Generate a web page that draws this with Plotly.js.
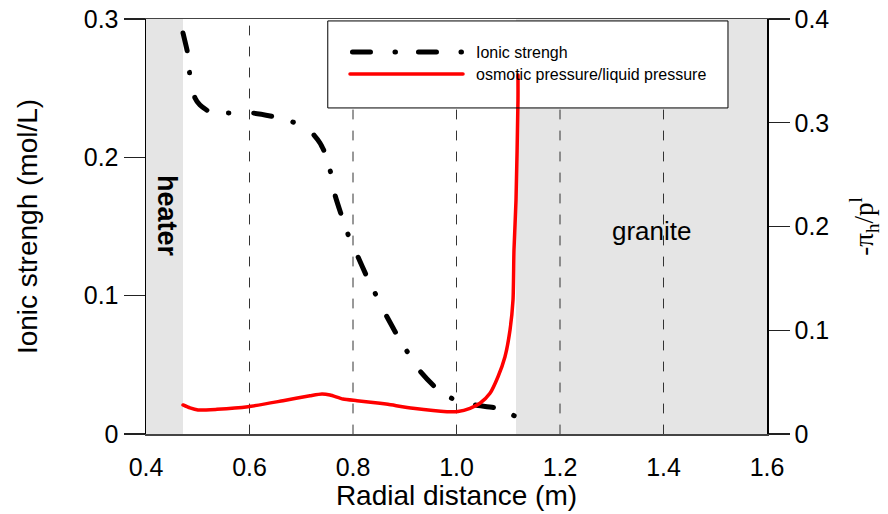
<!DOCTYPE html>
<html>
<head>
<meta charset="utf-8">
<script src="https://cdn.plot.ly/plotly-3.0.1.min.js"></script>
<style>
  html, body { margin: 0; padding: 0; background: #fff; }
  #chart { width: 888px; height: 514px; }
  .scatterlayer .js-line { stroke-linecap: round; }
  .shapelayer path { stroke-linecap: round; }
</style>
</head>
<body>
<div id="chart"></div>
<script>
// Ionic strength (left axis, mol/L)
const ionicX = [0.4715, 0.4812, 0.4850, 0.4908, 0.4947, 0.5043, 0.5237, 0.5662, 0.6068, 0.6493,
                0.6899, 0.7092, 0.7246, 0.7362, 0.7459, 0.7575, 0.7652, 0.7787, 0.7923, 0.8097,
                0.8271, 0.8464, 0.8638, 0.8850, 0.9063, 0.9295, 0.9585, 0.9932, 1.0357, 1.0763, 1.1130];
const ionicY = [0.2899, 0.2740, 0.2581, 0.2487, 0.2429, 0.2378, 0.2328, 0.2320, 0.2320, 0.2292,
                0.2248, 0.2219, 0.2161, 0.2104, 0.2031, 0.1880, 0.1728, 0.1569, 0.1424, 0.1280,
                0.1135, 0.0990, 0.0860, 0.0716, 0.0586, 0.0455, 0.0340, 0.0253, 0.0210, 0.0188, 0.0130];

// Osmotic pressure / liquid pressure (right axis)
const osmX = [0.4715, 0.4850, 0.5005, 0.5372, 0.5971, 0.6647, 0.7169, 0.7401, 0.7556, 0.7807,
              0.8077, 0.8522, 0.8676, 0.9159, 0.9816, 1.0029, 1.0261, 1.0454, 1.0647, 1.0802,
              1.0937, 1.1034, 1.1092, 1.1111, 1.1150, 1.1188, 1.1188];
const osmY = [0.0280, 0.0251, 0.0231, 0.0238, 0.0263, 0.0321, 0.0369, 0.0386, 0.0376, 0.0337,
              0.0321, 0.0296, 0.0286, 0.0248, 0.0215, 0.0217, 0.0248, 0.0296, 0.0392, 0.0552,
              0.0745, 0.1002, 0.1292, 0.1773, 0.2255, 0.3219, 0.3460];

const xTicks = [0.4, 0.6, 0.8, 1.0, 1.2, 1.4, 1.6];
const xTickText = ['0.4', '0.6', '0.8', '1.0', '1.2', '1.4', '1.6'];
const yTicks = [0, 0.1, 0.2, 0.3];
const yTickText = ['0', '0.1', '0.2', '0.3'];
const y2Ticks = [0, 0.1, 0.2, 0.3, 0.4];
const y2TickText = ['0', '0.1', '0.2', '0.3', '0.4'];
const dashedX = [0.6, 0.8, 1.0, 1.2, 1.4];
const heaterRange = [0.4, 0.4715];
const graniteRange = [1.115, 1.6];
const seriesNames = ['Ionic strengh', 'osmotic pressure/liquid pressure'];

const FONT = 'Liberation Sans, Arial, Helvetica, sans-serif';
const DASHDOT = '18px,22px,0.5px,25px';

const traces = [
  {
    x: osmX, y: osmY, yaxis: 'y2', type: 'scatter', mode: 'lines',
    name: seriesNames[1],
    line: { color: '#ff0000', width: 3.5, shape: 'spline', smoothing: 0.6 },
    hoverinfo: 'skip'
  },
  {
    x: ionicX, y: ionicY, type: 'scatter', mode: 'lines',
    name: seriesNames[0],
    line: { color: '#000000', width: 5, dash: DASHDOT, shape: 'spline', smoothing: 0.5 },
    hoverinfo: 'skip'
  }
];

// legend box geometry (data coords on x / y)
const legX0 = 0.752, legX1 = 1.5246, legY0 = 0.2357, legY1 = 0.2986;

const shapes = [];
shapes.push({ type: 'rect', layer: 'below', xref: 'x', yref: 'y', x0: heaterRange[0], x1: heaterRange[1], y0: 0, y1: 0.3,
  fillcolor: '#e5e5e5', line: { width: 0 } });
shapes.push({ type: 'rect', layer: 'below', xref: 'x', yref: 'y', x0: graniteRange[0], x1: graniteRange[1], y0: 0, y1: 0.3,
  fillcolor: '#e5e5e5', line: { width: 0 } });
dashedX.forEach(v => shapes.push({ type: 'line', layer: 'below', xref: 'x', yref: 'y', x0: v, x1: v, y0: 0, y1: 0.3,
  line: { color: '#333333', width: 1, dash: '9px,12px' } }));
shapes.push({ type: 'rect', layer: 'below', xref: 'x', yref: 'y', x0: legX0, x1: legX1, y0: legY0, y1: legY1,
  fillcolor: '#ffffff', line: { width: 0 } });
shapes.push({ type: 'rect', layer: 'above', xref: 'x', yref: 'y', x0: legX0, x1: legX1, y0: legY0, y1: legY1,
  fillcolor: 'rgba(0,0,0,0)', line: { color: '#000000', width: 1 } });
// legend samples
shapes.push({ type: 'line', layer: 'above', xref: 'x', yref: 'y', x0: 0.7990, x1: 1.0126, y0: 0.2761, y1: 0.2761,
  line: { color: '#000000', width: 5, dash: '18px,24.5px,0.5px,23px' } });
shapes.push({ type: 'line', layer: 'above', xref: 'x', yref: 'y', x0: 0.7942, x1: 1.0126, y0: 0.2602, y1: 0.2602,
  line: { color: '#ff0000', width: 3.5 } });

const annotations = [
  { x: 1.0338, y: 0.2761, xref: 'x', yref: 'y', text: seriesNames[0], showarrow: false, xanchor: 'left', yanchor: 'middle',
    font: { family: FONT, size: 16, color: '#000' } },
  { x: 1.0338, y: 0.2602, xref: 'x', yref: 'y', text: seriesNames[1], showarrow: false, xanchor: 'left', yanchor: 'middle',
    font: { family: FONT, size: 16, color: '#000' } },
  { x: 0.4406, y: 0.1576, xref: 'x', yref: 'y', text: '<b>heater</b>', showarrow: false, textangle: 90,
    xanchor: 'center', yanchor: 'middle', font: { family: FONT, size: 27, color: '#000' } },
  { x: 1.3778, y: 0.147, xref: 'x', yref: 'y', text: 'granite', showarrow: false,
    xanchor: 'center', yanchor: 'middle', font: { family: FONT, size: 26, color: '#000' } }
];

const layout = {
  width: 888, height: 514,
  margin: { l: 146, r: 121, t: 19, b: 80, pad: 0 },
  paper_bgcolor: '#ffffff', plot_bgcolor: '#ffffff',
  showlegend: false,
  font: { family: FONT, color: '#000' },
  xaxis: {
    range: [0.4, 1.6], tickvals: xTicks, ticktext: xTickText,
    showgrid: false, zeroline: false,
    showline: true, linecolor: '#444', linewidth: 1.5, mirror: true,
    ticks: 'outside', ticklen: 10, tickcolor: 'rgba(0,0,0,0)',
    tickfont: { family: FONT, size: 25, color: '#000' },
    title: { text: 'Radial distance (m)', font: { family: FONT, size: 28, color: '#000' }, standoff: 2 }
  },
  yaxis: {
    range: [0, 0.3], tickvals: yTicks, ticktext: yTickText,
    showgrid: false, zeroline: false,
    showline: true, linecolor: '#000', linewidth: 1.5,
    ticks: 'outside', ticklen: 21, tickwidth: 1.2, tickcolor: '#222',
    tickfont: { family: FONT, size: 25, color: '#000' },
    title: { text: 'Ionic strengh (mol/L)', font: { family: FONT, size: 28, color: '#000' }, standoff: 38 }
  },
  yaxis2: {
    range: [0, 0.4], tickvals: y2Ticks, ticktext: y2TickText,
    overlaying: 'y', side: 'right', anchor: 'x',
    showgrid: false, zeroline: false,
    showline: true, linecolor: '#000', linewidth: 1.5,
    ticks: 'outside', ticklen: 21, tickwidth: 1.2, tickcolor: '#222',
    tickfont: { family: FONT, size: 25, color: '#000' },
    title: { text: '-π<sub>h</sub>/p<sup>l</sup>', font: { family: 'Liberation Serif, Times New Roman, serif', size: 27, color: '#000' }, standoff: 26 }
  },
  shapes: shapes,
  annotations: annotations
};

Plotly.newPlot('chart', traces, layout, { staticPlot: true, displayModeBar: false });
</script>
</body>
</html>
